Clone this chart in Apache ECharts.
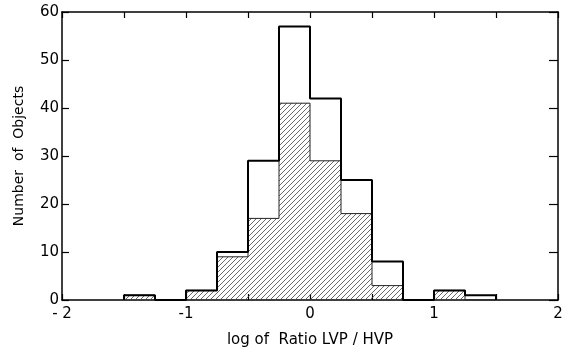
<!DOCTYPE html>
<html><head><meta charset="utf-8">
<script src="https://cdn.jsdelivr.net/npm/echarts@6/dist/echarts.min.js"></script>
<style>html,body{margin:0;padding:0;background:#fff}#c{width:570px;height:358px}</style>
</head><body><div id="c"></div>
<script>
// Histogram bins (left edges), width 0.25
const binStarts = [-1.5, -1.25, -1.0, -0.75, -0.5, -0.25, 0.0, 0.25, 0.5, 0.75, 1.0, 1.25];
const binWidth = 0.25;
const totalCounts = [1, 0, 2, 10, 29, 57, 42, 25, 8, 0, 2, 1];
const hatchedCounts = [1, 0, 2, 9, 17, 41, 29, 18, 3, 0, 2, 0];
const xTickLabels = ['- 2', '-1', '0', '1', '2'];
const yTicks = [0, 10, 20, 30, 40, 50, 60];

function stepData(counts) {
  const d = [[binStarts[0], 0]];
  for (let i = 0; i < counts.length; i++) d.push([binStarts[i], counts[i]]);
  d.push([binStarts[binStarts.length - 1] + binWidth, 0]);
  return d;
}

const p = 5;
const cv = document.createElement('canvas');
cv.width = p; cv.height = p;
const g = cv.getContext('2d');
g.strokeStyle = '#444'; g.lineWidth = 0.8;
g.beginPath();
g.moveTo(0, p); g.lineTo(p, 0);
g.moveTo(-1, 1); g.lineTo(1, -1);
g.moveTo(p - 1, p + 1); g.lineTo(p + 1, p - 1);
g.stroke();

const font = 'DejaVu Sans';
const chart = echarts.init(document.getElementById('c'));
const axLine = {show: true, onZero: false, lineStyle: {color: '#000', width: 1.5}};
chart.setOption({
  animation: false,
  grid: {left: 62, right: 12, top: 12, bottom: 58},
  xAxis: [{
    type: 'value', min: -2, max: 2, interval: 0.5, position: 'bottom',
    axisLine: axLine,
    axisTick: {show: true, inside: true, length: 6, lineStyle: {color: '#000', width: 1.2}},
    splitLine: {show: false},
    axisLabel: {margin: 7, color: '#000', fontFamily: font, fontSize: 15,
      formatter: v => Number.isInteger(v) ? xTickLabels[v + 2] : ''},
    name: 'log of  Ratio LVP / HVP', nameLocation: 'middle', nameGap: 33,
    nameTextStyle: {color: '#000', fontFamily: font, fontSize: 15}
  }, {
    type: 'value', min: -2, max: 2, interval: 0.5, position: 'top',
    axisLine: axLine,
    axisTick: {show: true, inside: true, length: 6, lineStyle: {color: '#000', width: 1.2}},
    splitLine: {show: false}, axisLabel: {show: false}
  }],
  yAxis: [{
    type: 'value', min: 0, max: 60, interval: 10, position: 'left',
    axisLine: axLine,
    axisTick: {show: true, inside: true, length: 7, lineStyle: {color: '#000', width: 1.2}},
    splitLine: {show: false},
    axisLabel: {margin: 3, color: '#000', fontFamily: font, fontSize: 15,
      formatter: v => yTicks.includes(v) ? String(v) : ''},
    name: 'Number  of  Objects', nameLocation: 'middle', nameGap: 36,
    nameTextStyle: {color: '#000', fontFamily: font, fontSize: 14}
  }, {
    type: 'value', min: 0, max: 60, interval: 10, position: 'right',
    axisLine: axLine,
    axisTick: {show: true, inside: true, length: 9, lineStyle: {color: '#000', width: 1.2}},
    splitLine: {show: false}, axisLabel: {show: false}
  }],
  series: [{
    type: 'line', step: 'end', data: stepData(hatchedCounts), symbol: 'none',
    lineStyle: {color: '#222', width: 1},
    areaStyle: {color: {image: cv, repeat: 'repeat'}, opacity: 1},
    z: 2
  }, {
    type: 'line', step: 'end', data: stepData(totalCounts), symbol: 'none',
    lineStyle: {color: '#000', width: 2},
    z: 3
  }]
});
</script></body></html>
